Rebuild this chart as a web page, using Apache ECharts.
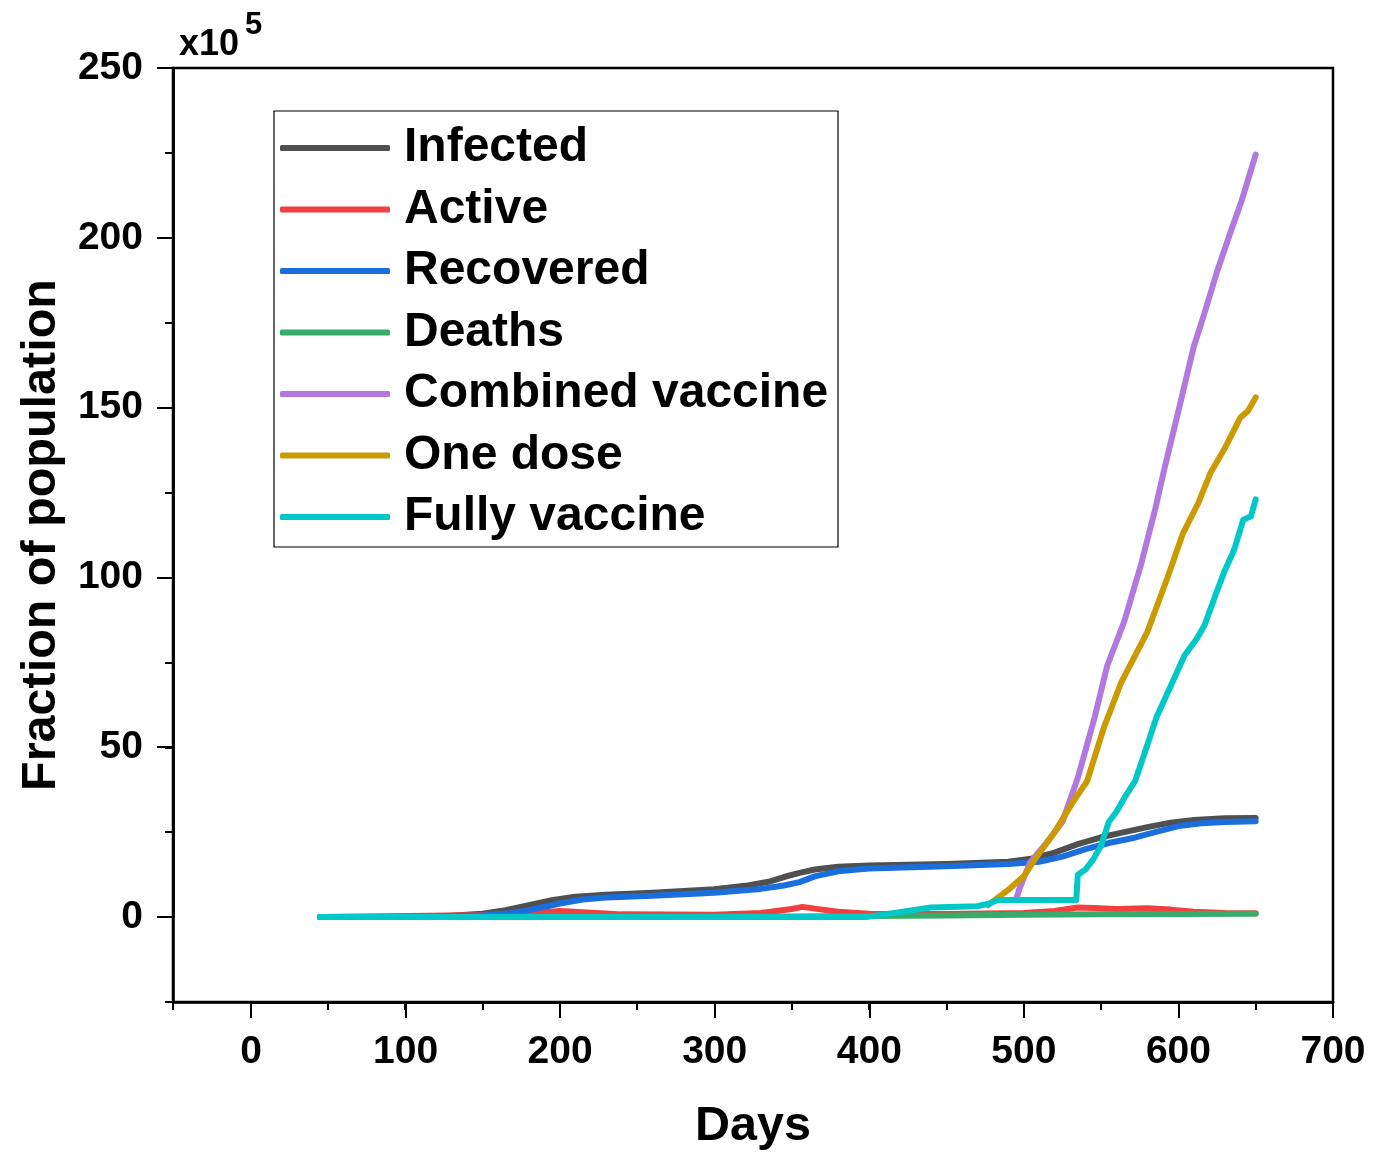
<!DOCTYPE html>
<html>
<head>
<meta charset="utf-8">
<script src="https://cdn.jsdelivr.net/npm/echarts@6/dist/echarts.min.js"></script>
<style>html,body{margin:0;padding:0;background:#fff}#c{width:1383px;height:1155px}</style>
</head>
<body>
<div id="c"></div>
<script>
// ---- data (values in units of 10^5) ----
const infectedDays = [45,100,130,150,165,180,195,210,230,260,300,320,335,345,355,365,380,400,450,490,505,520,535,550,565,580,595,610,630,650];
const infectedVals = [0,0.1,0.4,1.0,2.0,3.5,5.0,6.0,6.6,7.2,8.2,9.2,10.4,11.8,13.0,14.0,14.8,15.2,15.6,16.3,17.2,19.0,21.5,23.5,25.0,26.5,27.8,28.6,29.1,29.2];

const activeDays = [45,80,150,185,200,215,240,300,330,350,357,365,380,400,450,500,520,535,545,560,580,595,610,630,650];
const activeVals = [0,0.2,0.6,1.2,1.8,1.4,0.8,0.7,1.2,2.4,3.0,2.5,1.6,1.0,0.9,1.2,1.8,2.8,2.7,2.4,2.6,2.2,1.6,1.2,1.1];

const recoveredDays = [45,120,150,170,185,200,215,230,260,300,330,345,355,365,380,400,450,490,510,525,540,555,570,585,600,615,630,650];
const recoveredVals = [0,0.1,0.5,1.2,2.5,4.0,5.2,5.8,6.3,7.2,8.3,9.3,10.3,12.0,13.5,14.3,15.0,15.6,16.3,17.8,20.0,21.8,23.2,25.0,26.8,27.6,28.0,28.2];

const deathsDays = [45,200,350,400,450,500,550,600,650];
const deathsVals = [0,0.1,0.2,0.3,0.5,0.7,0.8,0.9,1.0];

const combinedDays = [495,497,504,515,525,535,546,554,565,576,585,591,599,610,617,625,634,641,645,650];
const combinedVals = [5,8,16,22,28,41,59,74,87,104,120,132,147,168,178,190,202,211,217,224.5];

const oneDoseDays = [477,490,500,508,520,532,541,552,563,580,593,603,613,621,630,640,645,650];
const oneDoseVals = [3.5,8,12,17.5,25,34,40,56,69,84,100,113,122,131,138,147,149,153];

const fullyDays = [45,398,410,425,440,470,478,483,534,535,540,545,550,555,560,565,572,578,586,595,604,612,617,625,630,636,642,647,650];
const fullyVals = [0,0,0.8,1.8,2.8,3.2,4.0,5.0,5.0,12.5,14,17,21,28,31,35,40,48,59,68,77,82,86,96,102,108,117,118,123];

const seriesNames = ['Infected','Active','Recovered','Deaths','Combined vaccine','One dose','Fully vaccine'];
const seriesColors = ['#505050','#f0403f','#1a6fdf','#37ad6b','#b178e0','#cc9900','#00c8c8'];
const seriesDays = [infectedDays,activeDays,recoveredDays,deathsDays,combinedDays,oneDoseDays,fullyDays];
const seriesVals = [infectedVals,activeVals,recoveredVals,deathsVals,combinedVals,oneDoseVals,fullyVals];

const xTickLabels = [0,100,200,300,400,500,600,700];
const yTickLabels = [0,50,100,150,200,250];

const FONT = '"Liberation Sans", Arial, sans-serif';

const chart = echarts.init(document.getElementById('c'));
const series = seriesNames.map((n, i) => ({
  name: n,
  type: 'line',
  xAxisIndex: 0,
  yAxisIndex: 0,
  showSymbol: false,
  symbol: 'none',
  smooth: false,
  lineStyle: { color: seriesColors[i], width: 6, cap: 'round', join: 'round' },
  itemStyle: { color: seriesColors[i] },
  data: seriesDays[i].map((d, k) => [d, seriesVals[i][k]])
}));

chart.setOption({
  animation: false,
  backgroundColor: '#fff',
  grid: [
    { left: 173, right: 50, top: 68, bottom: 153, show: true, borderColor: '#000', borderWidth: 2.5, containLabel: false },
    { left: 251, right: 50, top: 68, bottom: 238, show: false, containLabel: false }
  ],
  xAxis: [
    { type: 'value', gridIndex: 0, min: -50, max: 700, interval: 50,
      axisLine: { show: true, onZero: false, lineStyle: { color: '#000', width: 2.5 } },
      axisTick: { show: true, inside: false, length: 8, lineStyle: { color: '#000', width: 2 } },
      axisLabel: { show: false }, splitLine: { show: false } },
    { type: 'value', gridIndex: 1, min: 0, max: 700, interval: 100, position: 'bottom', offset: 85,
      axisLine: { show: true, onZero: false, lineStyle: { color: '#000', width: 2.5 } },
      axisTick: { show: true, inside: false, length: 16, lineStyle: { color: '#000', width: 2 } },
      axisLabel: { show: true, margin: 31, fontSize: 39, fontWeight: 'bold', fontFamily: FONT, color: '#000',
        formatter: v => xTickLabels.includes(v) ? String(v) : '' },
      splitLine: { show: false } }
  ],
  yAxis: [
    { type: 'value', gridIndex: 0, min: -25, max: 250, interval: 25,
      axisLine: { show: true, onZero: false, lineStyle: { color: '#000', width: 2.5 } },
      axisTick: { show: true, inside: false, length: 8, lineStyle: { color: '#000', width: 2 } },
      axisLabel: { show: false }, splitLine: { show: false } },
    { type: 'value', gridIndex: 1, min: 0, max: 250, interval: 50, position: 'left', offset: 78,
      axisLine: { show: true, onZero: false, lineStyle: { color: '#000', width: 2.5 } },
      axisTick: { show: true, inside: false, length: 16, lineStyle: { color: '#000', width: 2 } },
      axisLabel: { show: true, margin: 30, fontSize: 39, fontWeight: 'bold', fontFamily: FONT, color: '#000',
        formatter: v => yTickLabels.includes(v) ? String(v) : '' },
      splitLine: { show: false } }
  ],
  legend: {
    orient: 'vertical', left: 280, top: 124, padding: 0,
    itemWidth: 110, itemHeight: 6, itemGap: 13.5,
    icon: 'roundRect',
    textStyle: { fontSize: 48, fontWeight: 'bold', fontFamily: FONT, color: '#000', lineHeight: 48, padding: [0,0,0,9] },
    data: seriesNames
  },
  graphic: [
    { type: 'rect', shape: { x: 274, y: 111, width: 564, height: 436 }, style: { fill: 'none', stroke: '#000', lineWidth: 1.2 }, silent: true },
    { type: 'text', x: 179, y: 45, style: { text: 'x10', fontSize: 36, fontWeight: 'bold', fontFamily: FONT, fill: '#000', textVerticalAlign: 'middle' } },
    { type: 'text', x: 245, y: 25, style: { text: '5', fontSize: 31, fontWeight: 'bold', fontFamily: FONT, fill: '#000', textVerticalAlign: 'middle' } },
    { type: 'text', x: 753, y: 1127, style: { text: 'Days', fontSize: 48.5, fontWeight: 'bold', fontFamily: FONT, fill: '#000', textAlign: 'center', textVerticalAlign: 'middle' } },
    { type: 'text', x: 42, y: 535, rotation: Math.PI / 2, style: { text: 'Fraction of population', fontSize: 48.5, fontWeight: 'bold', fontFamily: FONT, fill: '#000', textAlign: 'center', textVerticalAlign: 'middle' } }
  ],
  series: series
});
</script>
</body>
</html>
